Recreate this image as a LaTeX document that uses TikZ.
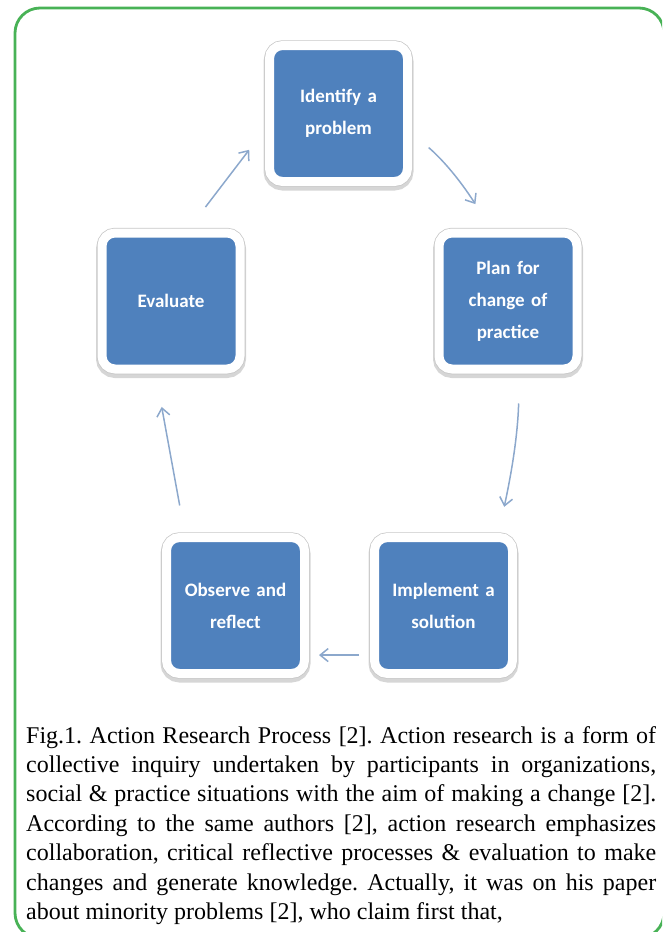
\documentclass[tikz,border=0pt]{standalone}
\usepackage{fontspec}
\setmainfont{Liberation Serif}
\newfontfamily\stagefont{Carlito}
\usetikzlibrary{arrows.meta,bending}
\definecolor{stageblue}{RGB}{79,129,189}
\definecolor{flowgray}{RGB}{140,168,204}
\definecolor{framegreen}{RGB}{72,178,86}

\begin{document}
\begin{tikzpicture}[
    x=1pt, y=1pt,
    stage/.style={rectangle, rounded corners=13pt, fill=stageblue, draw=white, line width=9pt,
        minimum width=138pt, minimum height=136pt, text width=124pt, align=center,
        text=white, font=\stagefont\bfseries\fontsize{19}{32}\selectfont,
        preaction={draw=black!16, line width=12pt, transform canvas={yshift=-3pt}},
        preaction={draw=black!22, line width=10.5pt}},
    flow/.style={draw=flowgray, line width=1.5pt, -{Straight Barb[length=8pt, width=13pt]}},
    caption/.style={anchor=base west, inner sep=0pt, text width=630pt, align=justify,
        font=\fontsize{24}{29.45}\selectfont}
]
\useasboundingbox (0,0) rectangle (662,-932);
\begin{scope}
    \clip (0,0) rectangle (662,-932);
    \draw[framegreen, line width=2.8pt, rounded corners=25pt] (15,-8) rectangle (664,-938);
\end{scope}

% the five stages of the cycle
\node[stage] (idf)  at (338.5,-113.5) {Identify a\\problem};
\node[stage] (plan) at (508,-301)     {Plan for\\change of\\practice};
\node[stage] (impl) at (443.5,-605.5) {Implement a\\solution};
\node[stage] (obs)  at (235.5,-605.5) {Observe and\\reflect};
\node[stage] (eval) at (171,-301)     {Evaluate};

% arrows round the cycle
\draw[flow, shorten <=27pt, shorten >=26pt] (eval.76) -- (idf.192);
\draw[flow, shorten <=22pt, shorten >=30pt] (idf.-15) to[bend left=10] (plan.104);
\draw[flow, shorten <=30pt, shorten >=28pt] (plan.-81) to[bend left=6] (impl.53);
\draw[flow, shorten <=11pt, shorten >=10pt] (impl.214) -- (obs.-34);
\draw[flow, shorten <=28pt, shorten >=34pt] (obs.125) -- (eval.258);

\node[caption] (cap) at (26,-743) {\noindent\frenchspacing\tolerance=9999\hbadness=10000
Fig.1. Action Research Process [2]. Action research is a form of\linebreak
collective inquiry undertaken by participants in organizations,\linebreak
social \& practice situations with the aim of making a change [2].\linebreak
According to the same authors [2], action research emphasizes\linebreak
collaboration, critical reflective processes \& evaluation to make\linebreak
changes and generate knowledge. Actually, it was on his paper\linebreak
about minority problems [2], who claim first that,};
\end{tikzpicture}
\end{document}
